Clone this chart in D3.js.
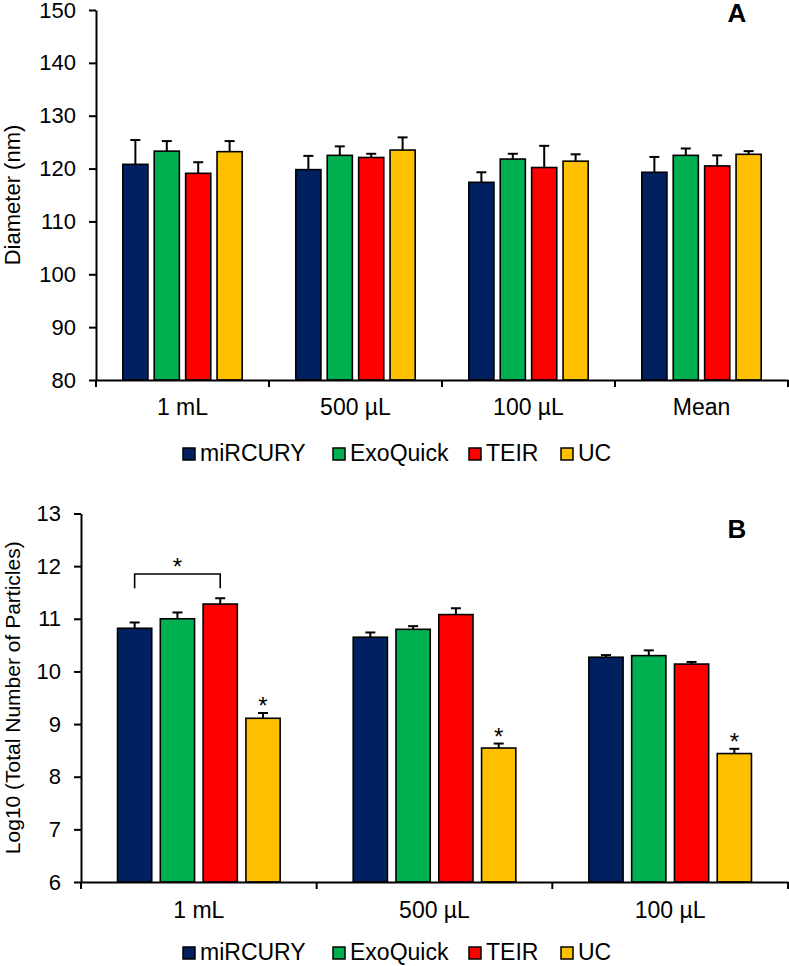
<!DOCTYPE html>
<html><head><meta charset="utf-8">
<script src="https://cdn.jsdelivr.net/npm/d3@7"></script>
<style>body{margin:0;background:#fff}svg{display:block;font-family:"Liberation Sans",Arial,sans-serif}</style>
</head><body><svg id="c" width="789" height="966"></svg>
<script>
const series = ["miRCURY","ExoQuick","TEIR","UC"];
const colors = ["#002060","#00B050","#FF0000","#FFC000"];

// Panel A: Diameter (nm)
const catsA = ["1 mL","500 µL","100 µL","Mean"];
const diamMiRCURY = [120.8,119.8,117.4,119.3];
const diamExoQuick = [123.3,122.5,121.8,122.5];
const diamTEIR = [119.1,122.1,120.2,120.5];
const diamUC = [123.2,123.5,121.4,122.7];
const diamErrMiRCURY = [4.6,2.6,1.9,2.9];
const diamErrExoQuick = [1.9,1.7,1.0,1.3];
const diamErrTEIR = [2.1,0.7,4.1,2.0];
const diamErrUC = [2.0,2.4,1.3,0.6];
const ticksA = [80,90,100,110,120,130,140,150];

// Panel B: Log10 (Total Number of Particles)
const catsB = ["1 mL","500 µL","100 µL"];
const logMiRCURY = [10.82,10.65,10.27];
const logExoQuick = [11.00,10.80,10.30];
const logTEIR = [11.28,11.08,10.14];
const logUC = [9.11,8.545,8.44];
const logErrMiRCURY = [0.11,0.09,0.04];
const logErrExoQuick = [0.12,0.06,0.10];
const logErrTEIR = [0.11,0.12,0.04];
const logErrUC = [0.10,0.085,0.09];
const ticksB = [6,7,8,9,10,11,12,13];
const starsB = [[0,3],[1,3],[2,3]];          // [category, series] with asterisk
const bracketB = {cat:0, from:0, to:2, top:11.85, leg:11.58};

const svg = d3.select("#c");

function panel(opt){
  const g = svg.append("g");
  const y = d3.scaleLinear().domain(opt.ydom).range([opt.y1, opt.y0]);
  const x = d3.scaleBand().domain(opt.cats).range([opt.x0, opt.x1]).padding(0);
  const bw = x.bandwidth();
  const xi = d3.scaleBand().domain(series).range([bw*0.155, bw*0.845]).paddingInner(0.2).paddingOuter(0);

  opt.cats.forEach((c,ci)=>{
    series.forEach((s,si)=>{
      const v = opt.vals[si][ci], e = opt.errs[si][ci];
      const bx = x(c)+xi(s), cx = bx + xi.bandwidth()/2;
      g.append("line").attr("x1",cx).attr("x2",cx).attr("y1",y(v)).attr("y2",y(v+e))
        .attr("stroke","#000").attr("stroke-width",2);
      g.append("line").attr("x1",cx-5).attr("x2",cx+5).attr("y1",y(v+e)).attr("y2",y(v+e))
        .attr("stroke","#000").attr("stroke-width",2);
      g.append("rect").attr("x",bx).attr("y",y(v)).attr("width",xi.bandwidth())
        .attr("height",y(opt.ydom[0])-y(v)).attr("fill",colors[si])
        .attr("stroke","#000").attr("stroke-width",1.6);
    });
  });

  const ya = g.append("g").attr("transform",`translate(${opt.x0},0)`)
    .call(d3.axisLeft(y).tickValues(opt.ticks).tickFormat(d3.format("d"))
      .tickSize(7).tickSizeOuter(0).tickPadding(13));
  ya.attr("font-family",null).attr("font-size",null);
  ya.select(".domain").attr("stroke-width",2);
  ya.selectAll(".tick line").attr("stroke-width",2);
  ya.selectAll("text").attr("font-size",22).attr("fill","#000");

  const xa = g.append("g").attr("transform",`translate(0,${opt.y1})`)
    .call(d3.axisBottom(x).tickSize(0).tickSizeOuter(0).tickPadding(opt.xpad));
  xa.attr("font-family",null).attr("font-size",null);
  xa.select(".domain").attr("stroke-width",2);
  xa.selectAll("text").attr("font-size",23).attr("fill","#000");
  const bounds = opt.cats.map(c=>x(c)).concat([x.range()[1]]);
  xa.selectAll(".bt").data(bounds).enter().append("line").attr("class","bt")
    .attr("x1",d=>d).attr("x2",d=>d).attr("y1",0).attr("y2",7)
    .attr("stroke","#000").attr("stroke-width",2);

  g.append("text").attr("transform",`translate(${opt.tx},${(opt.y0+opt.y1)/2}) rotate(-90)`)
    .attr("text-anchor","middle").attr("dominant-baseline","central")
    .attr("font-size",opt.tsize).attr("fill","#000").text(opt.title);

  g.append("text").attr("x",737).attr("y",opt.letterY).attr("text-anchor","middle")
    .attr("font-size",26).attr("font-weight","bold").text(opt.letter);

  const lx = [183,333,469,561];
  series.forEach((s,si)=>{
    g.append("rect").attr("x",lx[si]).attr("y",opt.legY-13).attr("width",12).attr("height",12)
      .attr("fill",colors[si]).attr("stroke","#000").attr("stroke-width",1.5);
    g.append("text").attr("x",lx[si]+17).attr("y",opt.legY).attr("font-size",23)
      .attr("fill","#000").text(s);
  });
  return {g,x,xi,y};
}

panel({cats:catsA, ydom:[80,150], y0:10, y1:380, x0:96, x1:788, ticks:ticksA,
  vals:[diamMiRCURY,diamExoQuick,diamTEIR,diamUC],
  errs:[diamErrMiRCURY,diamErrExoQuick,diamErrTEIR,diamErrUC],
  title:"Diameter (nm)", tsize:22, tx:12, letter:"A", letterY:22, legY:461, xpad:19});

const pB = panel({cats:catsB, ydom:[6,13], y0:513.5, y1:882, x0:81, x1:788, ticks:ticksB,
  vals:[logMiRCURY,logExoQuick,logTEIR,logUC],
  errs:[logErrMiRCURY,logErrExoQuick,logErrTEIR,logErrUC],
  title:"Log10 (Total Number of Particles)", tsize:21, tx:12, letter:"B", letterY:538, legY:960, xpad:20});

const valsB = [logMiRCURY,logExoQuick,logTEIR,logUC];
const errsB = [logErrMiRCURY,logErrExoQuick,logErrTEIR,logErrUC];
starsB.forEach(([ci,si])=>{
  const cx = pB.x(catsB[ci]) + pB.xi(series[si]) + pB.xi.bandwidth()/2;
  pB.g.append("text").attr("x",cx).attr("y",pB.y(valsB[si][ci]+errsB[si][ci])+1)
    .attr("text-anchor","middle").attr("font-size",24).attr("fill","#000").text("*");
});
{
  const c = catsB[bracketB.cat];
  const xa = pB.x(c)+pB.xi(series[bracketB.from])+pB.xi.bandwidth()/2;
  const xb = pB.x(c)+pB.xi(series[bracketB.to])+pB.xi.bandwidth()/2;
  const yt = pB.y(bracketB.top), yl = pB.y(bracketB.leg);
  pB.g.append("path").attr("d",`M${xa},${yl}V${yt}H${xb}V${yl}`)
    .attr("fill","none").attr("stroke","#000").attr("stroke-width",1.6);
  pB.g.append("text").attr("x",(xa+xb)/2).attr("y",yt+1).attr("text-anchor","middle")
    .attr("font-size",24).attr("fill","#000").text("*");
}
</script></body></html>
